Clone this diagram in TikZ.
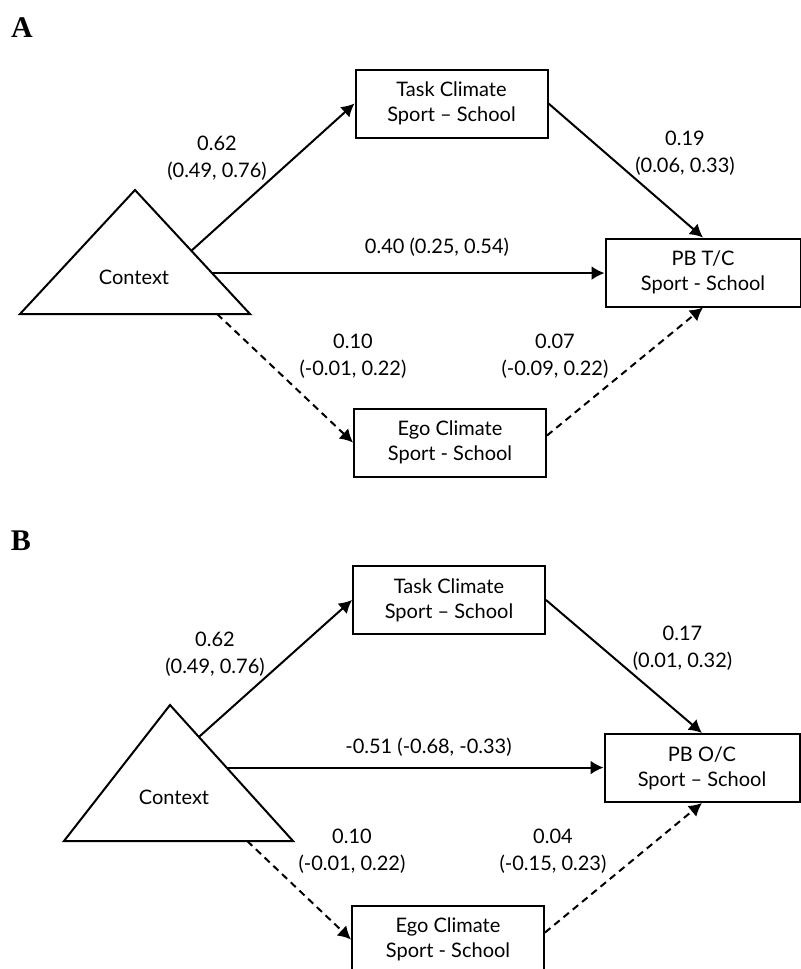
\documentclass[tikz,border=0pt]{standalone}
\usepackage{fontspec}
\setmainfont{Lato}
\newfontfamily\panelfont{Liberation Serif}
\usetikzlibrary{arrows.meta,calc,positioning}

\tikzset{
  climbox/.style={draw, line width=1pt, minimum width=96pt, minimum height=34pt, inner sep=0pt, align=center, font=\fontsize{10}{12.5}\selectfont},
  coef/.style={align=center, font=\fontsize{10}{13.5}\selectfont},
  panel/.style={font=\panelfont\bfseries\fontsize{15}{18}\selectfont},
  link/.style={line width=1pt, ->},
  weak/.style={link, dash pattern=on 3.5pt off 2.5pt}
}

\begin{document}
\begin{tikzpicture}[x=0.5pt,y=-0.5pt,>={Latex[length=6.5pt,width=7pt]}]
  \useasboundingbox (0,0) rectangle (801,969);

  % panel A
  \node[panel] (labA) at (22,28) {A};
  \node[climbox] (taskA) at (451.5,103.5) {Task Climate\\Sport -- School};
  \node[climbox, minimum width=97.5pt] (pbA) at (703,272.5) {PB T/C\\Sport - School};
  \node[climbox] (egoA) at (450,442.5) {Ego Climate\\Sport - School};
  \coordinate (topA) at (135,190);
  \coordinate (leftA) at (20,314);
  \coordinate (rightA) at (250,314);
  \draw[line width=1pt] (topA) -- (leftA) -- (rightA) -- cycle;
  \node[coef] (ctxA) at (134,277) {Context};
  \coordinate (upA) at ($(topA)!0.49!(rightA)$);
  \coordinate (midA) at ($(topA)!0.67!(rightA)$);
  \coordinate (lowA) at ($(leftA)!0.857!(rightA)$);
  \draw[link] (upA) -- (taskA.west);
  \draw[link] (midA) -- (midA -| pbA.west);
  \draw[link] (taskA.east) -- (pbA.north);
  \draw[weak] (lowA) -- (egoA.west);
  \draw[weak] ([yshift=3.5pt]egoA.east) -- (pbA.south);
  \node[coef] (cA1) at (217,158.5) {0.62\\(0.49, 0.76)};
  \node[coef] (cA2) at (685,153.5) {0.19\\(0.06, 0.33)};
  \node[coef] (cA3) at (437,247) {0.40 (0.25, 0.54)};
  \node[coef] (cA4) at (353,356.5) {0.10\\(-0.01, 0.22)};
  \node[coef] (cA5) at (555,356.5) {0.07\\(-0.09, 0.22)};

  % panel B
  \node[panel] (labB) at (21,541) {B};
  \node[climbox] (taskB) at (449,600) {Task Climate\\Sport -- School};
  \node[climbox, minimum width=97.5pt] (pbB) at (702,768) {PB O/C\\Sport -- School};
  \node[climbox] (egoB) at (448,939.5) {Ego Climate\\Sport - School};
  \coordinate (topB) at (170,705);
  \coordinate (leftB) at (64,841);
  \coordinate (rightB) at (293,841);
  \draw[line width=1pt] (topB) -- (leftB) -- (rightB) -- cycle;
  \node[coef] (ctxB) at (174,797) {Context};
  \coordinate (upB) at ($(topB)!0.235!(rightB)$);
  \coordinate (midB) at ($(topB)!0.46!(rightB)$);
  \coordinate (lowB) at ($(leftB)!0.80!(rightB)$);
  \draw[link] (upB) -- (taskB.west);
  \draw[link] (midB) -- (midB -| pbB.west);
  \draw[link] (taskB.east) -- (pbB.north);
  \draw[weak] (lowB) -- (egoB.west);
  \draw[weak] ([yshift=3.5pt]egoB.east) -- (pbB.south);
  \node[coef] (cB1) at (215,654.5) {0.62\\(0.49, 0.76)};
  \node[coef] (cB2) at (682.5,648.5) {0.17\\(0.01, 0.32)};
  \node[coef] (cB3) at (428.5,747) {-0.51 (-0.68, -0.33)};
  \node[coef] (cB4) at (352,851) {0.10\\(-0.01, 0.22)};
  \node[coef] (cB5) at (553,851) {0.04\\(-0.15, 0.23)};
\end{tikzpicture}
\end{document}
